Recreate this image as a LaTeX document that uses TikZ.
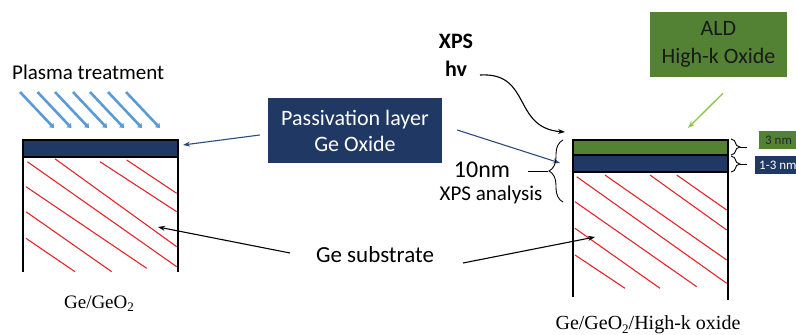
\documentclass[tikz,border=0pt]{standalone}
\usepackage{fontspec}
\setmainfont{Carlito}
\newfontfamily\tnr{Liberation Serif}
\usetikzlibrary{decorations.pathreplacing,arrows.meta,calc}
\definecolor{navy}{HTML}{203864}
\definecolor{ogreen}{HTML}{548235}
\definecolor{lgreen}{HTML}{8DC63F}
\definecolor{sblue}{HTML}{5B9BD5}
\definecolor{dblue}{HTML}{2F4B7C}
\definecolor{hred}{HTML}{E3262B}
\begin{document}
\begin{tikzpicture}[x=1pt,y=-1pt,
  hatch/.style={hred,line width=1.1pt},
  wall/.style={black,line width=1.1pt},
  plasma/.style={sblue,line width=2.6pt,-{Triangle[length=4pt,width=6pt]}},
  passarrow/.style={dblue,line width=1.1pt,-{Stealth[length=7pt,width=5pt]}},
  blackarrow/.style={black,line width=1.1pt,-{Stealth[length=7pt,width=5pt]}},
  navybox/.style={fill=navy,text=white,minimum width=174pt,minimum height=65pt,align=center,font=\fontsize{22}{26}\selectfont,inner sep=0pt},
  greenbox/.style={fill=ogreen,text=black!90,minimum width=137pt,minimum height=65pt,align=center,font=\fontsize{22}{28}\selectfont,inner sep=0pt},
  lbl/.style={font=\fontsize{21}{25}\selectfont,inner sep=0pt},
  brc/.style={decorate,black,line width=0.9pt}]
\useasboundingbox (0,0) rectangle (796,335);
\clip (0,0) rectangle (796,335);

% Plasma treatment
\node[font=\fontsize{21}{24}\selectfont,anchor=west,inner sep=0pt] (plasma) at (12,72) {Plasma treatment};
\foreach \x in {20,37.5,55,73,90,108,126}
  \draw[plasma] (\x,92) -- ++(34,36);

% Left sample
\fill[navy] (23,140) rectangle (178,157);
\draw[wall] (23,157) -- (178,157);
\draw[wall] (23,272) -- (23,140) -- (178,140) -- (178,272);
\draw[hatch] (27.3,161.7) -- (176.7,266.7);
\draw[hatch] (55,158.8) -- (176.7,246.7);
\draw[hatch] (100,161.7) -- (176.7,211.7);
\draw[hatch] (126.7,160) -- (176.7,193.3);
\draw[hatch] (26,186.7) -- (146.7,268.3);
\draw[hatch] (26,211.7) -- (111.7,271.7);
\draw[hatch] (26,238.3) -- (75,271.7);
\coordinate (lpass) at (183,145);
\coordinate (lsub) at (158,227);

% Right sample
\fill[ogreen] (573,140) rectangle (728,155);
\fill[navy] (573,155) rectangle (728,172);
\draw[wall] (573,155) -- (728,155);
\draw[wall] (573,172) -- (728,172);
\draw[wall] (573,297) -- (573,140) -- (728,140) -- (728,300);
\draw[hatch] (576.7,176.7) -- (726.7,283.3);
\draw[hatch] (605,175) -- (726.7,260);
\draw[hatch] (650,175) -- (726.7,230);
\draw[hatch] (676.7,175) -- (726.7,210);
\draw[hatch] (575,201.7) -- (696.7,286.7);
\draw[hatch] (575,228.3) -- (660,288.3);
\draw[hatch] (575,255) -- (625,288.3);
\coordinate (rpass) at (560,163);
\coordinate (rsub) at (595,237);
\coordinate (rtop) at (565,132);
\coordinate (rgreen) at (688,128);

% Passivation layer box
\node[navybox] (pass) at (355,130.5) {Passivation layer\\Ge Oxide};
\draw[passarrow] ($(pass.west)+(-8,4.5)$) -- (lpass);
\draw[passarrow] ($(pass.east)+(15,-0.5)$) -- (rpass);

% XPS hv
\node[font=\bfseries\fontsize{22}{28}\selectfont,align=center,inner sep=0pt] (xps) at (456,55) {XPS\\hv};
\coordinate (xpsstart) at (480,75);
\draw[blackarrow] (xpsstart) .. controls (532,72) and (512,128) .. (rtop);

% ALD box
\node[greenbox] (ald) at (718.5,44.5) {ALD\\High-k Oxide};
\draw[lgreen,line width=1.3pt,-{Stealth[length=7pt,width=5pt]}] ($(ald.south)+(4.5,16)$) -- (rgreen);

% XPS analysis brace
\draw[brc,decoration={brace,amplitude=14pt}] (563,202) -- (563,140);
\node[font=\fontsize{24}{26}\selectfont,inner sep=0pt] (tenm) at (482,170) {10nm};
\node[lbl] (xpsa) at (491,195) {XPS analysis};
\coordinate (bl) at (528,171);
\coordinate (bt) at (548,171);
\draw[black,line width=0.9pt] (bl) -- (bt);

% small braces and thickness boxes
\draw[brc,decoration={brace,amplitude=9pt}] (731,139) -- (731,155);
\draw[brc,decoration={brace,amplitude=9pt}] (731,156) -- (731,172);
\coordinate (b1a) at (740,147);
\coordinate (b1b) at (747,147);
\coordinate (b2a) at (740,164);
\coordinate (b2b) at (747,164);
\draw[black,line width=0.9pt] (b1a) -- (b1b);
\draw[black,line width=0.9pt] (b2a) -- (b2b);
\fill[ogreen] (759,131) rectangle (820,149);
\node[anchor=west,inner sep=0pt,font=\fontsize{13}{15}\selectfont,text=black!85] (t3) at (765,140) {3 nm};
\fill[navy] (755,156) rectangle (820,174);
\node[anchor=west,inner sep=0pt,font=\fontsize{13}{15}\selectfont,text=white] (t13) at (759,165) {1-3 nm};

% Ge substrate
\node[font=\fontsize{23}{26}\selectfont,inner sep=0pt] (sub) at (375,255) {Ge substrate};
\coordinate (subl) at (290,253);
\coordinate (subr) at (463,263);
\draw[blackarrow] (subl) -- (lsub);
\draw[blackarrow] (subr) -- (rsub);

% labels
\node[font=\tnr\fontsize{19}{22}\selectfont,inner sep=0pt,anchor=base] (lab1) at (99,308) {Ge/GeO\raisebox{-0.45ex}{\fontsize{13}{13}\selectfont 2}};
\node[font=\tnr\fontsize{20}{23}\selectfont,inner sep=0pt,anchor=base] (lab2) at (648,329) {Ge/GeO\raisebox{-0.45ex}{\fontsize{13}{13}\selectfont 2}/High-k oxide};
\end{tikzpicture}
\end{document}
